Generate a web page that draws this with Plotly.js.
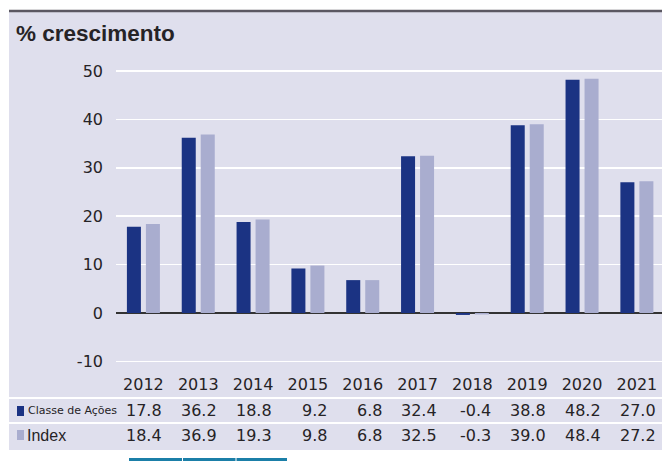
<!DOCTYPE html>
<html>
<head>
<meta charset="utf-8">
<script src="https://cdn.plot.ly/plotly-3.0.1.min.js"></script>
<style>html,body{margin:0;padding:0;background:#fff;}#chart{width:662px;height:471px;}</style>
</head>
<body>
<div id="chart"></div>
<script>
const years = ['2012','2013','2014','2015','2016','2017','2018','2019','2020','2021'];
const classe = [17.8, 36.2, 18.8, 9.2, 6.8, 32.4, -0.4, 38.8, 48.2, 27.0];
const indexVals = [18.4, 36.9, 19.3, 9.8, 6.8, 32.5, -0.3, 39.0, 48.4, 27.2];
const seriesNames = ['Classe de Ações', 'Index'];
const yTickVals = [-10, 0, 10, 20, 30, 40, 50];
const yTickText = ['-10', '0', '10', '20', '30', '40', '50'];
const titleText = '% crescimento';

const W = 662, H = 471;
const L = 116, R = 662, T = 61, B = 371;
const px2x = p => (p - L) / (R - L);
const px2y = p => (B - p) / (B - T);

const dark = '#1b3383';
const light = '#a9adcf';
const bg = '#dfdfed';
const txt = '#262326';
const font = 'DejaVu Sans, Verdana, sans-serif';

const traces = [
  {type: 'bar', name: seriesNames[0], x: years, y: classe, marker: {color: dark}, hoverinfo: 'x+y'},
  {type: 'bar', name: seriesNames[1], x: years, y: indexVals, marker: {color: light}, hoverinfo: 'x+y'}
];

const annotations = [];
years.forEach((yr, i) => {
  annotations.push({x: i, xref: 'x', y: px2y(410), yref: 'paper', text: classe[i].toFixed(1), showarrow: false,
    xanchor: 'right', xshift: 21, yanchor: 'middle', font: {family: font, size: 16, color: txt}});
  annotations.push({x: i, xref: 'x', y: px2y(435), yref: 'paper', text: indexVals[i].toFixed(1), showarrow: false,
    xanchor: 'right', xshift: 21, yanchor: 'middle', font: {family: font, size: 16, color: txt}});
});
annotations.push({x: px2x(26), xref: 'paper', y: px2y(411), yref: 'paper', text: seriesNames[0], showarrow: false,
  xanchor: 'left', yanchor: 'middle', font: {family: font, size: 11, color: txt}});
annotations.push({x: px2x(25), xref: 'paper', y: px2y(435), yref: 'paper', text: seriesNames[1], showarrow: false,
  xanchor: 'left', yanchor: 'middle', font: {family: 'Liberation Sans, Arial, sans-serif', size: 16, color: txt}});

const shapes = [
  {type: 'rect', xref: 'paper', yref: 'paper', x0: px2x(9), x1: px2x(662), y0: px2y(450), y1: px2y(12),
    fillcolor: bg, line: {width: 0}, layer: 'below'},
  {type: 'line', xref: 'paper', yref: 'paper', x0: px2x(9), x1: px2x(662), y0: px2y(11), y1: px2y(11),
    line: {color: '#5b5862', width: 2.5}},
  {type: 'line', xref: 'paper', yref: 'paper', x0: px2x(9), x1: px2x(662), y0: px2y(398), y1: px2y(398),
    line: {color: '#ffffff', width: 2}},
  {type: 'line', xref: 'paper', yref: 'paper', x0: px2x(9), x1: px2x(662), y0: px2y(423), y1: px2y(423),
    line: {color: '#ffffff', width: 2}},
  {type: 'rect', xref: 'paper', yref: 'paper', x0: px2x(17), x1: px2x(24), y0: px2y(416), y1: px2y(406),
    fillcolor: dark, line: {width: 0}},
  {type: 'rect', xref: 'paper', yref: 'paper', x0: px2x(17), x1: px2x(24), y0: px2y(440), y1: px2y(430),
    fillcolor: light, line: {width: 0}},
  {type: 'line', xref: 'paper', yref: 'paper', x0: px2x(129), x1: px2x(182), y0: px2y(459.5), y1: px2y(459.5),
    line: {color: '#1b7fa8', width: 3}},
  {type: 'line', xref: 'paper', yref: 'paper', x0: px2x(183), x1: px2x(235.5), y0: px2y(459.5), y1: px2y(459.5),
    line: {color: '#1b7fa8', width: 3}},
  {type: 'line', xref: 'paper', yref: 'paper', x0: px2x(236.5), x1: px2x(287), y0: px2y(459.5), y1: px2y(459.5),
    line: {color: '#1b7fa8', width: 3}}
];

const layout = {
  width: W, height: H,
  margin: {l: L, r: W - R, t: T, b: H - B, pad: 0},
  paper_bgcolor: '#ffffff',
  plot_bgcolor: 'rgba(0,0,0,0)',
  showlegend: false,
  barmode: 'group',
  bargap: 0.307,
  bargroupgap: 0.263,
  title: {text: '<b>' + titleText + '</b>', x: 16 / W, xanchor: 'left', xref: 'container', y: 1 - 33 / H, yanchor: 'middle', yref: 'container',
    font: {family: 'Liberation Sans, Arial, sans-serif', size: 22.5, color: txt}},
  xaxis: {type: 'category', range: [-0.5, -0.5 + (R - L) / 54.83], showticklabels: true, showgrid: false,
    zeroline: false, ticks: '', ticklabelstandoff: 2, tickfont: {family: font, size: 16, color: txt}, fixedrange: true},
  yaxis: {range: [-11.98, 52.07], tickmode: 'array', tickvals: yTickVals, ticktext: yTickText, showgrid: true, gridcolor: '#ffffff', gridwidth: 1.5,
    zeroline: true, zerolinecolor: '#333333', zerolinewidth: 2, ticks: '', ticklabelstandoff: 12,
    tickfont: {family: font, size: 16, color: txt}, fixedrange: true},
  annotations: annotations,
  shapes: shapes
};

Plotly.newPlot('chart', traces, layout, {displayModeBar: false, staticPlot: true});
</script>
</body>
</html>
